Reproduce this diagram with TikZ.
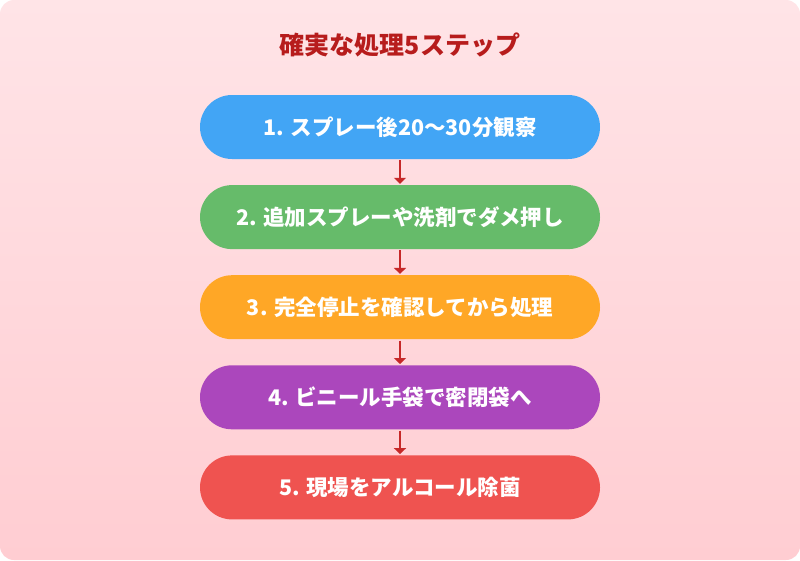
\documentclass[tikz,border=0pt]{standalone}
\usepackage{fontspec}
\setmainfont{Noto Sans CJK JP}
\usepackage{tikz}
\usetikzlibrary{arrows.meta, positioning}
\definecolor{bgtop}{HTML}{FFE4E7}
\definecolor{bgbot}{HTML}{FFCDD2}
\definecolor{titlered}{HTML}{B71C1C}
\definecolor{arrowred}{HTML}{C62828}
\definecolor{stepblue}{HTML}{42A5F5}
\definecolor{stepgreen}{HTML}{66BB6A}
\definecolor{steporange}{HTML}{FFA726}
\definecolor{steppurple}{HTML}{AB47BC}
\definecolor{stepred}{HTML}{EF5350}
\begin{document}
\begin{tikzpicture}[x=1pt,y=-1pt,node distance=23.5pt,
                    ->,>={Triangle[width=12pt,length=6pt]},line width=2.6pt]
  \tikzstyle{stepbox} = [draw=none, rectangle, rounded corners=32pt,
                      minimum width=400pt, minimum height=64pt,
                      text=white, font=\bfseries\fontsize{21.5pt}{25pt}\selectfont]
  \shade[top color=bgtop, bottom color=bgbot, rounded corners=14pt, draw=none]
    (0,0) rectangle (800,560);
  \node [text=titlered, font=\bfseries\fontsize{25pt}{29pt}\selectfont] (title) at (400,45) {確実な処理5ステップ};
  \node [stepbox, fill=stepblue] (s1) at (400,127) {1. スプレー後20〜30分観察};
  \node [stepbox, fill=stepgreen, below=of s1] (s2) {2. 追加スプレーや洗剤でダメ押し};
  \node [stepbox, fill=steporange, below=of s2] (s3) {3. 完全停止を確認してから処理};
  \node [stepbox, fill=steppurple, below=of s3] (s4) {4. ビニール手袋で密閉袋へ};
  \node [stepbox, fill=stepred, below=of s4] (s5) {5. 現場をアルコール除菌};
  \foreach \a/\b in {s1/s2, s2/s3, s3/s4, s4/s5}
    \draw [arrowred] (\a) -- (\b);
\end{tikzpicture}
\end{document}
